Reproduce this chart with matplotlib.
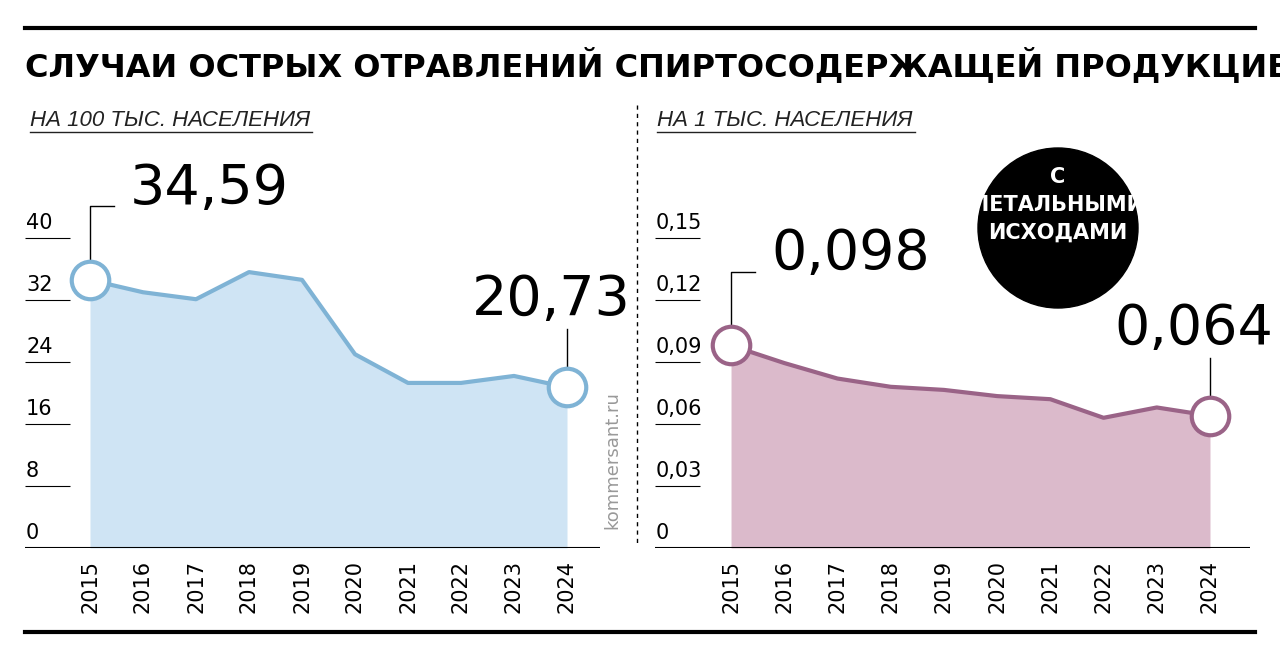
import matplotlib
matplotlib.use("Agg")
import matplotlib.pyplot as plt
from matplotlib.lines import Line2D
from matplotlib.patches import Ellipse

years = [2015, 2016, 2017, 2018, 2019, 2020, 2021, 2022, 2023, 2024]
per100k = [34.59, 33.0, 32.1, 35.6, 34.6, 25.0, 21.3, 21.3, 22.2, 20.73]
per1k_lethal = [0.098, 0.0895, 0.082, 0.078, 0.0765, 0.0735, 0.072, 0.063, 0.068, 0.064]
left_ticks = [0, 8, 16, 24, 32, 40]
right_ticks = [0, 0.03, 0.06, 0.09, 0.12, 0.15]
right_tick_labels = ["0", "0,03", "0,06", "0,09", "0,12", "0,15"]

W, H = 1280, 661
fig = plt.figure(figsize=(W / 100, H / 100), dpi=100)
NARROW = "Liberation Sans Narrow"


def px_ax(x0, x1, y_top, y_bot):
    return fig.add_axes([x0 / W, 1 - y_bot / H, (x1 - x0) / W, (y_bot - y_top) / H])


def panel(ax, vals, ticks, labels, ymax, xlim, line_c, fill_c, first_lbl, last_lbl):
    ax.set_xlim(*xlim)
    ax.set_ylim(0, ymax)
    ax.axis("off")
    ax.fill_between(years, vals, 0, color=fill_c, lw=0, zorder=1)
    ax.plot(years, vals, color=line_c, lw=3, zorder=2)
    for t, l in zip(ticks, labels):
        ax.hlines(t, xlim[0], xlim[0] + 0.85, color="black", lw=0.8)
        ax.text(xlim[0] + 0.02, t + ymax * 0.012, l, fontsize=15, family=NARROW,
                ha="left", va="bottom")
    ax.axhline(0, color="black", lw=1.5, zorder=3)
    for y in years:
        ax.text(y, -ymax * 0.03, str(y), rotation=90, ha="center", va="top",
                fontsize=15, family=NARROW)
    for i in (0, -1):
        ax.plot(years[i], vals[i], "o", ms=27, mfc="white", mec=line_c, mew=3, zorder=4)
    x0, v0 = years[0], vals[0]
    ax.plot([x0, x0, x0 + 0.45], [v0 + ymax * 0.04, v0 + ymax * 0.19, v0 + ymax * 0.19],
            color="black", lw=1, zorder=3)
    ax.text(x0 + 0.75, v0 + ymax * 0.165, first_lbl, fontsize=40, family=NARROW,
            ha="left", va="bottom")
    x1, v1 = years[-1], vals[-1]
    ax.plot([x1, x1], [v1 + ymax * 0.04, v1 + ymax * 0.15], color="black", lw=1, zorder=3)
    ax.text(x1 - 0.3, v1 + ymax * 0.155, last_lbl, fontsize=40, family=NARROW,
            ha="center", va="bottom")


ax1 = px_ax(25, 600, 160, 548)
panel(ax1, per100k, left_ticks, [str(t) for t in left_ticks], 40 * 388 / 310,
      (2015 - 65 / 53, 2024 + 33 / 53), "#7fb3d5", "#cfe4f4", "34,59", "20,73")

ax2 = px_ax(655, 1250, 160, 548)
panel(ax2, per1k_lethal, right_ticks, right_tick_labels, 0.15 * 388 / 310,
      (2015 - 76 / 53.2, 2024 + 40 / 53.2), "#9a6387", "#dbbacb", "0,098", "0,064")

fig.add_artist(Line2D([25 / W, 1255 / W], [1 - 28 / H] * 2, color="black", lw=3))
fig.add_artist(Line2D([25 / W, 1255 / W], [1 - 632 / H] * 2, color="black", lw=3))
fig.add_artist(Line2D([637 / W] * 2, [1 - 105 / H, 1 - 545 / H], color="black",
                      lw=1, ls=(0, (3, 3))))
fig.text(25 / W, 1 - 65 / H, "СЛУЧАИ ОСТРЫХ ОТРАВЛЕНИЙ СПИРТОСОДЕРЖАЩЕЙ ПРОДУКЦИЕЙ",
         fontsize=23, fontweight="black", family="DejaVu Sans", va="center", ha="left")
for x, s, w in [(30, "НА 100 ТЫС. НАСЕЛЕНИЯ", 282), (657, "НА 1 ТЫС. НАСЕЛЕНИЯ", 258)]:
    fig.text(x / W, 1 - 120 / H, s, fontsize=16, style="italic", family="Liberation Sans",
             va="center", ha="left", color="#222222")
    fig.add_artist(Line2D([x / W, (x + w) / W], [1 - 132 / H] * 2, color="#222222", lw=1))

fig.add_artist(Ellipse((1058 / W, 1 - 228 / H), 160 / W, 160 / H,
                       transform=fig.transFigure, color="black"))
fig.text(1058 / W, 1 - 205 / H, "С\nЛЕТАЛЬНЫМИ\nИСХОДАМИ", color="white", fontsize=15,
         fontweight="bold", family=NARROW, ha="center", va="center", linespacing=1.5)

fig.text(612 / W, 1 - 460 / H, "kommersant.ru", rotation=90, color="#999999",
         fontsize=13, ha="center", va="center")

fig.savefig("out.png", dpi=100)
